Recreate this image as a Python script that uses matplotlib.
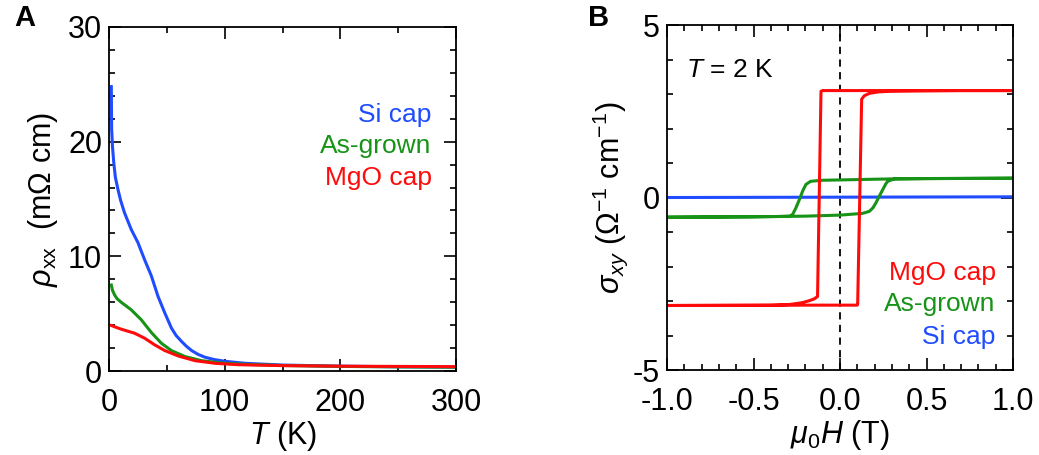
import numpy as np
import matplotlib
matplotlib.use('Agg')
import matplotlib.pyplot as plt
from matplotlib.ticker import MultipleLocator

plt.rcParams['font.family'] = ['Liberation Sans', 'DejaVu Sans']
plt.rcParams['mathtext.fontset'] = 'custom'
plt.rcParams['mathtext.rm'] = 'Liberation Sans'
plt.rcParams['mathtext.it'] = 'Liberation Sans:italic'
plt.rcParams['mathtext.bf'] = 'Liberation Sans:bold'
plt.rcParams['axes.unicode_minus'] = False

BLUE = '#1f4cff'
GREEN = '#179317'
RED = '#ff0a0a'

# panel A: rho_xx vs T
T_si = [2, 2.3, 3, 4.1, 5.5, 7.6, 10, 13.4, 19.2, 25, 30.8, 36.6, 42.4, 48.3, 54,
        58, 62.8, 67, 71.5, 77, 83, 91, 100, 118, 150, 200, 250, 300]
rho_si = [24.8, 21.1, 19.6, 18.2, 16.9, 15.9, 14.9, 13.8, 12.35, 11.2, 9.7, 8.3, 6.5,
          5.05, 3.74, 3.1, 2.57, 2.15, 1.78, 1.45, 1.2, 1.0, 0.85, 0.67, 0.52, 0.42, 0.37, 0.34]
T_as = [2, 3, 4.7, 7, 10.5, 19.2, 27.9, 36.6, 45.3, 54, 65.7, 80.2, 100, 120, 150, 200, 250, 300]
rho_as = [7.5, 7.05, 6.66, 6.3, 6.0, 5.34, 4.47, 3.36, 2.42, 1.78, 1.26, 0.9, 0.67,
          0.57, 0.48, 0.4, 0.36, 0.33]
T_mgo = [2, 5, 10.5, 16, 22, 30.8, 39.5, 48.3, 59.9, 74.4, 91.9, 112, 150, 200, 250, 300]
rho_mgo = [3.97, 3.85, 3.65, 3.48, 3.3, 2.86, 2.28, 1.78, 1.31, 0.9, 0.67, 0.55, 0.47,
           0.42, 0.4, 0.38]

# panel B: sigma_xy vs mu0H (full loop, down sweep then up sweep)
H_mgo = [1.0, 0.5, 0.0, -0.1, -0.11, -0.13, -0.15, -0.177, -0.22, -0.29, -0.4, -0.6, -1.0,
         -0.6, -0.2, 0.0, 0.1, 0.102, 0.125, 0.14, 0.17, 0.22, 0.285, 0.44, 0.7, 1.0]
s_mgo = [3.1, 3.1, 3.1, 3.1, 3.08, -2.87, -2.94, -2.99, -3.05, -3.1, -3.12, -3.12, -3.13,
         -3.13, -3.12, -3.12, -3.12, -3.08, 2.85, 2.95, 3.02, 3.06, 3.08, 3.09, 3.1, 3.1]
H_as = [1.0, 0.6, 0.3, 0.1, -0.1, -0.17, -0.197, -0.215, -0.235, -0.255, -0.274, -0.29,
        -0.35, -0.52, -1.0,
        -0.52, -0.2, 0.0, 0.13, 0.17, 0.19, 0.208, 0.227, 0.247, 0.265, 0.276, 0.314, 0.5, 1.0]
s_as = [0.56, 0.55, 0.54, 0.52, 0.5, 0.47, 0.38, 0.2, -0.06, -0.3, -0.49, -0.54,
        -0.55, -0.56, -0.57,
        -0.56, -0.54, -0.51, -0.46, -0.4, -0.3, -0.15, 0.04, 0.23, 0.4, 0.47, 0.54, 0.55, 0.56]
H_si = [-1.0, 0.0, 1.0]
s_si = [0.0, 0.01, 0.02]

fig = plt.figure(figsize=(10.39, 4.55), dpi=100)
axA = fig.add_axes([0.1049, 0.1846, 0.3340, 0.7561])
axB = fig.add_axes([0.6420, 0.1868, 0.3330, 0.7582])

lw = 2.2
axA.plot(T_si, rho_si, color=BLUE, lw=lw)
axA.plot(T_as, rho_as, color=GREEN, lw=lw)
axA.plot(T_mgo, rho_mgo, color=RED, lw=lw)
axA.set_xlim(0, 300)
axA.set_ylim(0, 30)
axA.xaxis.set_major_locator(MultipleLocator(100))
axA.xaxis.set_minor_locator(MultipleLocator(50))
axA.yaxis.set_major_locator(MultipleLocator(10))
axA.yaxis.set_minor_locator(MultipleLocator(2))
axA.set_xlabel(r'$\mathit{T}$ (K)', fontsize=22, labelpad=1)
axA.set_ylabel(r'$\mathit{\rho}_{\mathrm{xx}}$  (m$\Omega$ cm)', fontsize=22, labelpad=6)
axA.text(0.93, 0.745, 'Si cap', color=BLUE, fontsize=19, ha='right', va='center',
         transform=axA.transAxes)
axA.text(0.93, 0.655, 'As-grown', color=GREEN, fontsize=19, ha='right', va='center',
         transform=axA.transAxes)
axA.text(0.93, 0.562, 'MgO cap', color=RED, fontsize=19, ha='right', va='center',
         transform=axA.transAxes)

axB.axvline(0, color='black', lw=1.3, ls=(0, (4, 3)))
axB.plot(H_si, s_si, color=BLUE, lw=lw)
axB.plot(H_as, s_as, color=GREEN, lw=lw)
axB.plot(H_mgo, s_mgo, color=RED, lw=lw)
axB.set_xlim(-1, 1)
axB.set_ylim(-5, 5)
axB.xaxis.set_major_locator(MultipleLocator(0.5))
axB.xaxis.set_minor_locator(MultipleLocator(0.1))
axB.yaxis.set_major_locator(MultipleLocator(5))
axB.yaxis.set_minor_locator(MultipleLocator(1))
axB.xaxis.set_major_formatter(plt.FuncFormatter(lambda v, p: '%.1f' % v))
axB.set_xlabel(r'$\mathit{\mu}_0\mathit{H}$ (T)', fontsize=22, labelpad=1)
axB.set_ylabel(r'$\mathit{\sigma}_{xy}$ ($\Omega^{-1}$ cm$^{-1}$)', fontsize=22, labelpad=2)
axB.text(0.055, 0.87, r'$\mathit{T}$ = 2 K', fontsize=19, ha='left', va='center',
         transform=axB.transAxes)
axB.text(0.95, 0.28, 'MgO cap', color=RED, fontsize=19, ha='right', va='center',
         transform=axB.transAxes)
axB.text(0.95, 0.19, 'As-grown', color=GREEN, fontsize=19, ha='right', va='center',
         transform=axB.transAxes)
axB.text(0.95, 0.095, 'Si cap', color=BLUE, fontsize=19, ha='right', va='center',
         transform=axB.transAxes)

for ax in (axA, axB):
    ax.tick_params(which='both', direction='in', top=True, right=True,
                   labelsize=22, width=1.2)
    ax.tick_params(axis='x', which='both', pad=12)
    ax.tick_params(axis='y', which='both', pad=5)
    ax.tick_params(which='major', length=8.5)
    ax.tick_params(which='minor', length=4.5)
    for s in ax.spines.values():
        s.set_linewidth(1.3)

fig.text(0.0135, 0.96, 'A', fontsize=21, fontweight='bold', va='center', ha='left')
fig.text(0.566, 0.96, 'B', fontsize=21, fontweight='bold', va='center', ha='left')

fig.savefig('out.png', dpi=100)
